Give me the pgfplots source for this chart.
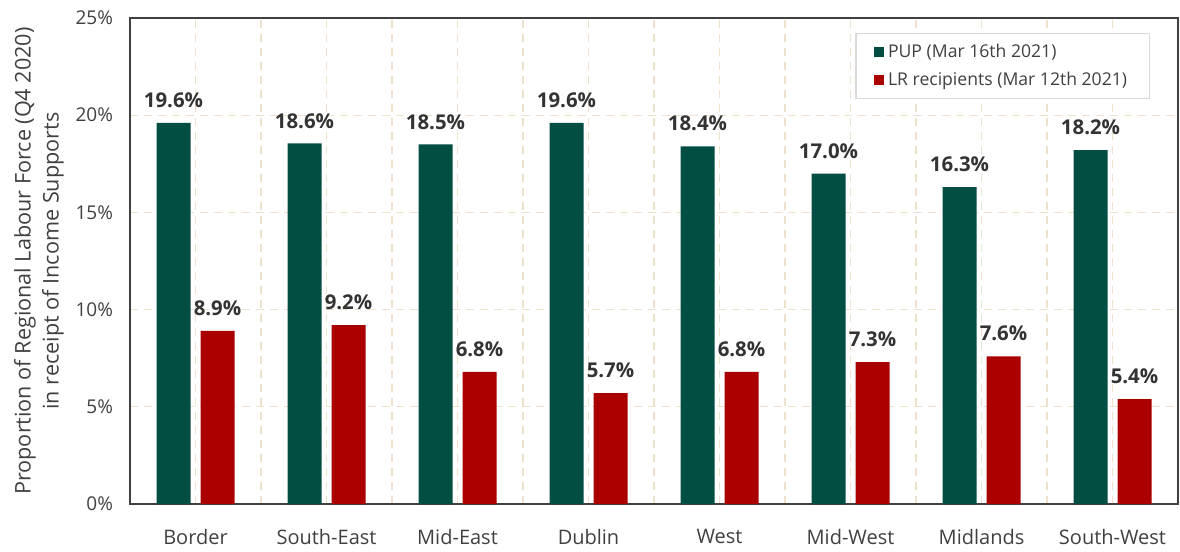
\documentclass[border=0pt]{standalone}
\usepackage{pgfplots}
\pgfplotsset{compat=1.18}
\usepackage{fontspec}
\setmainfont{Open Sans}
\definecolor{pupgreen}{RGB}{2,78,67}
\definecolor{lrred}{RGB}{170,0,0}
\definecolor{gridbeige}{RGB}{238,226,205}
\definecolor{txt}{RGB}{64,64,64}
\begin{document}
\begin{tikzpicture}
\begin{axis}[
  scale only axis,
  width=524pt, height=243pt,
  xmin=-0.5, xmax=7.5,
  ymin=0, ymax=25,
  ytick={0,5,10,15,20,25},
  yticklabel={\pgfmathprintnumber{\tick}\%},
  /pgf/number format/assume math mode=true,
  xtick={0,...,7},
  xticklabels={Border,South-East,Mid-East,Dublin,West,Mid-West,Midlands,South-West},
  minor xtick={-0.5,0.5,...,7.5},
  major tick length=0pt, minor tick length=0pt,
  xmajorgrids, xminorgrids, ymajorgrids,
  grid style={gridbeige, dashed, line width=0.6pt, dash pattern=on 4pt off 3pt},
  minor grid style={gridbeige, dashed, line width=0.6pt, dash pattern=on 4pt off 3pt},
  axis line style={black!75, line width=0.7pt},
  yticklabel style={font=\fontsize{9.5}{11}\selectfont, text=txt, xshift=-5pt},
  xticklabel style={font=\fontsize{10}{12}\selectfont, text=txt, yshift=-9pt},
  ylabel style={font=\fontsize{10.8}{14}\selectfont, text=txt, align=center},
  ylabel={Proportion of Regional Labour Force (Q4 2020)\\in receipt of Income Supports},
  ylabel shift=-1pt,
  ybar, bar width=17pt,
  nodes near coords={\pgfmathprintnumber[fixed,fixed zerofill,precision=1]{\pgfplotspointmeta}\%},
  every node near coord/.append style={font=\bfseries\fontsize{10.2}{11}\selectfont, text=black!80, yshift=4pt},
  legend style={at={(0.973,0.969)}, anchor=north east, draw=black!15, line width=0.6pt,
    font=\fontsize{8.8}{10}\selectfont, text=txt, row sep=2pt, inner xsep=9pt, inner ysep=3pt},
  legend cell align=left,
  legend image code/.code={\fill[#1] (0pt,-2.5pt) rectangle (5pt,2.5pt);},
]
\addplot[fill=pupgreen, draw=none, bar shift=-11pt] coordinates {
(0,19.6) (1,18.55) (2,18.5) (3,19.6) (4,18.4) (5,17.0) (6,16.3) (7,18.2)};
\addlegendentry{PUP (Mar 16th 2021)}
\addplot[fill=lrred, draw=none, bar shift=11pt] coordinates {
(0,8.9) (1,9.2) (2,6.8) (3,5.7) (4,6.8) (5,7.3) (6,7.6) (7,5.4)};
\addlegendentry{LR recipients (Mar 12th 2021)}
\end{axis}
\path ([xshift=-65pt,yshift=-20pt]current axis.south west) rectangle ([xshift=1pt,yshift=9pt]current axis.north east);
\end{tikzpicture}
\end{document}
